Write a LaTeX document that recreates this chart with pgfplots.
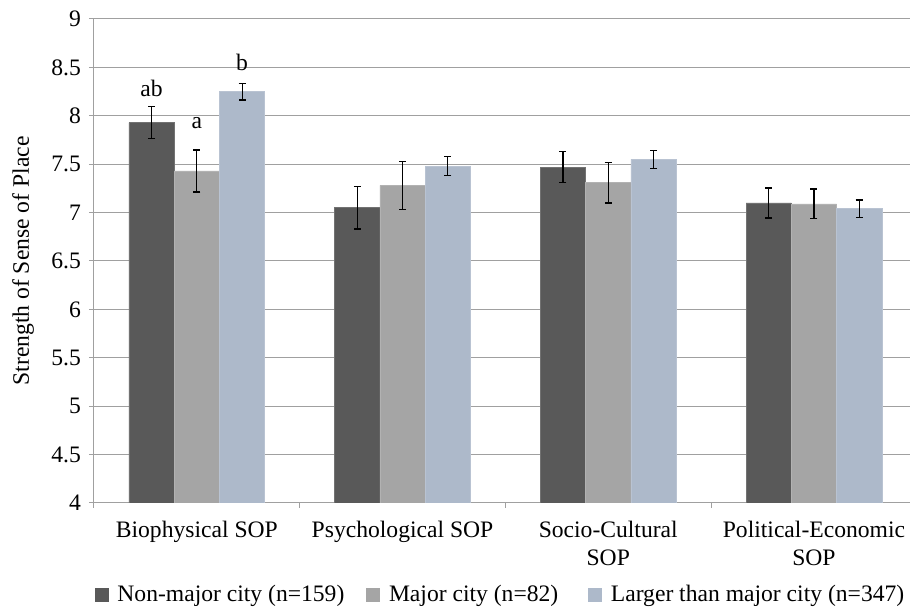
\documentclass[border=0pt]{standalone}
\usepackage{pgfplots}
\pgfplotsset{compat=1.18}
\usepackage{fontspec}
\setmainfont{Liberation Serif}
\definecolor{c1}{HTML}{595959}
\definecolor{c2}{HTML}{A5A5A5}
\definecolor{c3}{HTML}{ADB9CA}
\definecolor{gridc}{HTML}{A0A0A0}
\pgfplotstableread{
x y e
0 7.93 0.167
1 7.05 0.22
2 7.47 0.16
3 7.10 0.155
}\nonmajor
\pgfplotstableread{
x y e
0 7.43 0.217
1 7.28 0.25
2 7.31 0.21
3 7.09 0.153
}\major
\pgfplotstableread{
x y e
0 8.25 0.086
1 7.48 0.10
2 7.55 0.095
3 7.04 0.09
}\larger
\pgfplotsset{
  myerr/.style={
    error bars/y dir=both, error bars/y explicit,
    error bars/error bar style={black, line width=1.2pt},
    error bars/error mark options={rotate=90, black, mark size=3.5pt, line width=1.2pt},
  },
}
\begin{document}
\rmfamily\fontsize{23.6pt}{28pt}\selectfont
\begin{tikzpicture}
\useasboundingbox (-94pt,-104pt) rectangle (816pt,503pt);
\begin{axis}[
  at={(0pt,0pt)}, anchor=south west,
  scale only axis, width=816pt, height=484pt,
  ybar=0pt, bar width=0.22,
  xmin=-0.5, xmax=3.467, ymin=4, ymax=9,
  ytick={4,4.5,5,5.5,6,6.5,7,7.5,8,8.5,9},
  /pgf/number format/assume math mode=true,
  xtick={-0.5,0.5,1.5,2.5},
  xticklabels={},
  extra x ticks={0,1,2,3},
  extra x tick labels={{Biophysical SOP},{Psychological SOP},{Socio-Cultural\\SOP},{Political-Economic\\SOP}},
  extra x tick style={major tick length=0pt},
  xticklabel style={align=center, yshift=-10pt},
  ymajorgrids=true,
  grid style={gridc, line width=1pt},
  axis x line*=bottom, axis y line*=left,
  axis line style={gridc, line width=1pt, -},
  tick align=outside, major tick length=5pt,
  tick style={gridc, line width=1pt},
  ylabel={Strength of Sense of Place},
  ylabel style={at={(axis description cs:-0.087,0.5)}, anchor=center},
  legend columns=3,
  legend style={at={(0.497,-0.19)}, anchor=center, draw=none, fill=none,
    nodes={inner xsep=0pt},
    /tikz/column sep=9pt,
    /tikz/column 2/.style={column sep=22pt},
    /tikz/column 4/.style={column sep=30pt}},
]
\addplot[fill=c1, draw=c1!85!white, line width=0.6pt, myerr, legend image code/.code={\fill[c1] (0pt,-6.5pt) rectangle (13pt,6.5pt);}] table[x=x, y=y, y error=e] {\nonmajor};
\addlegendentry{Non-major city (n=159)}
\addplot[fill=c2, draw=c2!85!white, line width=0.6pt, myerr, legend image code/.code={\fill[c2] (0pt,-6.5pt) rectangle (13pt,6.5pt);}] table[x=x, y=y, y error=e] {\major};
\addlegendentry{Major city (n=82)}
\addplot[fill=c3, draw=c3!85!white, line width=0.6pt, myerr, legend image code/.code={\fill[c3] (0pt,-6.5pt) rectangle (13pt,6.5pt);}] table[x=x, y=y, y error=e] {\larger};
\addlegendentry{Larger than major city (n=347)}
\node[anchor=base] at (axis cs:-0.22,8.203) {ab};
\node[anchor=base] at (axis cs:0,7.87) {a};
\node[anchor=base] at (axis cs:0.22,8.472) {b};
\end{axis}
\end{tikzpicture}
\end{document}
